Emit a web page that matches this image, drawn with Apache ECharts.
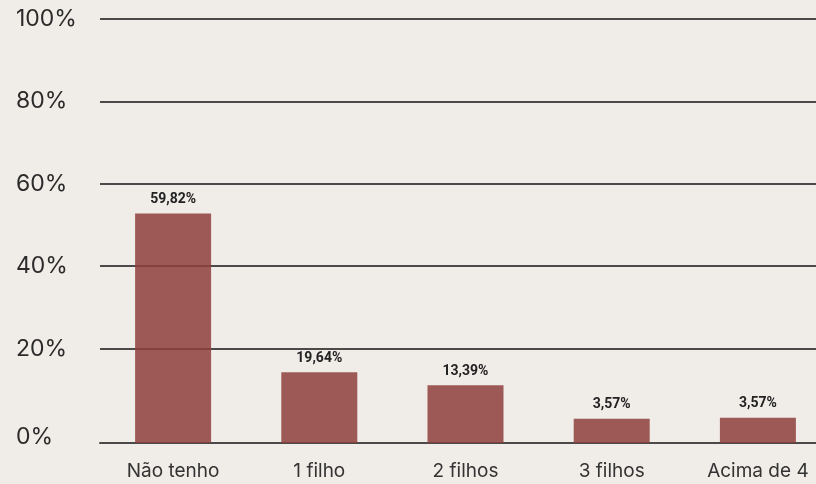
<!DOCTYPE html>
<html>
<head>
<meta charset="utf-8">
<script src="https://cdn.jsdelivr.net/npm/echarts@6/dist/echarts.min.js"></script>
<style>
html,body{margin:0;padding:0;background:#F0ECE8;}
#c{width:816px;height:484px;}
</style>
</head>
<body>
<div id="c"></div>
<script>
var categories = ['Não tenho', '1 filho', '2 filhos', '3 filhos', 'Acima de 4'];
// bar heights as drawn in the picture (read on the y axis)
var values = [52.8, 14.3, 11.1, 3.0, 3.2];
// value labels printed above the bars
var valueLabels = ['59,82%', '19,64%', '13,39%', '3,57%', '3,57%'];
var yTicks = [0, 20, 40, 60, 80, 100];

var GRID = '#4a4a4a';
var chart = echarts.init(document.getElementById('c'));
chart.setOption({
  backgroundColor: '#F0ECE8',
  animation: false,
  grid: { left: 100, top: 19, right: -15, bottom: 41, containLabel: false, outerBoundsMode: 'none' },
  xAxis: {
    type: 'category',
    data: categories,
    axisLine: { show: true, onZero: false, lineStyle: { color: GRID, width: 2 } },
    axisTick: { show: false },
    axisLabel: { color: '#333', fontSize: 19, fontFamily: 'Inter', margin: 19 }
  },
  yAxis: {
    type: 'value',
    min: -2.9,
    max: 100,
    startValue: -2.9,
    splitNumber: 5,
    axisLine: { show: false },
    axisTick: { show: false },
    splitLine: { lineStyle: { color: ['rgba(0,0,0,0)', 'rgba(0,0,0,0)', GRID, GRID, GRID, GRID, GRID], width: 2 } },
    axisLabel: {
      color: '#2b2b2b', fontSize: 23, fontFamily: 'Inter', align: 'left', margin: 84,
      formatter: function (v) {
        if (Math.abs(v - Math.round(v)) > 1e-6 || yTicks.indexOf(Math.round(v)) < 0) return '';
        return v === 0 ? '{z|0%}' : v + '%';
      },
      rich: { z: { fontSize: 23, fontFamily: 'Inter', color: '#2b2b2b', padding: [12, 0, 0, 0] } }
    }
  },
  series: [{
    type: 'bar',
    data: values,
    barWidth: 76,
    itemStyle: { color: 'rgba(142,63,60,0.85)' },
    label: {
      show: true, position: 'top', distance: 7,
      color: '#222', fontSize: 14, fontWeight: 'bold', fontFamily: 'Roboto',
      formatter: function (p) { return valueLabels[p.dataIndex]; }
    }
  }]
});
</script>
</body>
</html>
